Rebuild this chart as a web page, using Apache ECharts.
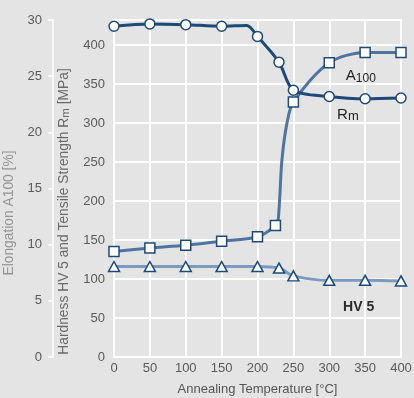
<!DOCTYPE html>
<html>
<head>
<meta charset="utf-8">
<title>Annealing temperature</title>
<script src="https://cdn.jsdelivr.net/npm/echarts@6.0.0/dist/echarts.min.js"></script>
<style>
  html, body { margin: 0; padding: 0; background: #e4e4e4; }
  #chart { width: 414px; height: 398px; }
</style>
</head>
<body>
<div id="chart"></div>
<script>
// values: [temperature in °C, value]
var rmPoints = [[0, 424], [50, 427], [100, 426], [150, 424], [200, 411], [230, 378], [250, 342], [300, 334], [350, 331], [400, 332]];
var rmBends = [[185, 425]];                                  // unmarked bend on the curve
var a100Points = [[0, 9.4], [50, 9.7], [100, 9.95], [150, 10.3], [200, 10.7], [225, 11.7], [250, 22.7], [300, 26.2], [350, 27.1], [400, 27.1]];
var a100Bends = [[229, 12.3], [234, 17.5], [241, 20.8]];
var hvPoints = [[0, 116], [50, 116], [100, 116], [150, 116], [200, 116], [230, 114], [250, 104], [300, 98.3], [350, 98.3], [400, 97.5]];
var hvBends = [];

var mpaMax = 432;     // top of the frame on the MPa scale
var elongMax = 30;

var font = "'Liberation Sans', Arial, sans-serif";
var navy = '#1c4a79';
var labelColor = '#5a5a5a';

function buildData(points, bends) {
    var data = points.map(function (p) { return { value: p }; });
    bends.forEach(function (b) {
        data.push({ value: b, symbol: 'none' });
    });
    data.sort(function (a, b) { return a.value[0] - b.value[0]; });
    return data;
}

function tag(coord, text, rich) {
    return {
        coord: coord,
        label: { formatter: text, rich: rich }
    };
}

var chart = echarts.init(document.getElementById('chart'));

var option = {
    backgroundColor: '#e4e4e4',
    animation: false,
    textStyle: { fontFamily: font },
    grid: {
        left: 114, right: 13, top: 20, bottom: 41,
        outerBoundsMode: 'none',
        containLabel: false,
        show: true, borderColor: '#fff', borderWidth: 2, backgroundColor: 'transparent'
    },
    xAxis: {
        type: 'value',
        min: 0, max: 400, interval: 50,
        name: 'Annealing Temperature [°C]',
        nameLocation: 'middle',
        nameGap: 26,
        nameTextStyle: { color: '#555', fontSize: 13, fontFamily: font },
        axisLine: { lineStyle: { color: '#fff', width: 2 } },
        axisTick: { show: false },
        axisLabel: { color: labelColor, fontSize: 13, margin: 5, fontFamily: font },
        splitLine: { show: true, lineStyle: { color: '#fff', width: 2 } }
    },
    yAxis: [
        {
            type: 'value',
            position: 'left',
            min: 0, max: mpaMax, interval: 50,
            name: '{n|Hardness HV 5 and Tensile Strength R}{s|m}{n| [MPa]}',
            nameLocation: 'middle',
            nameGap: 42,
            nameTextStyle: {
                padding: [0, 46, 0, 0],
                rich: {
                    n: { color: '#6a6a6a', fontSize: 13.8, lineHeight: 15, fontFamily: font },
                    s: { color: '#6a6a6a', fontSize: 11.5, lineHeight: 11, verticalAlign: 'bottom', fontFamily: font }
                }
            },
            axisLine: { show: true, lineStyle: { color: '#fff', width: 2 } },
            axisTick: { show: false },
            axisLabel: { color: labelColor, fontSize: 13, margin: 9, showMaxLabel: false, fontFamily: font },
            splitLine: { show: true, lineStyle: { color: '#fff', width: 2 } }
        },
        {
            type: 'value',
            position: 'left',
            offset: 61,
            min: 0, max: elongMax, interval: 5,
            name: 'Elongation A100 [%]',
            nameLocation: 'middle',
            nameGap: 36,
            nameTextStyle: { color: '#959595', fontSize: 13.8, padding: [0, 49, 0, 0], fontFamily: font },
            axisLine: { show: true, lineStyle: { color: '#fff', width: 1.5 } },
            axisTick: { show: true, length: 5, lineStyle: { color: '#fff', width: 1.5 } },
            axisLabel: { color: labelColor, fontSize: 13, margin: 11, fontFamily: font },
            splitLine: { show: false }
        }
    ],
    series: [
        {
            name: 'HV 5',
            type: 'line',
            yAxisIndex: 0,
            smooth: 0.3,
            data: buildData(hvPoints, hvBends),
            symbol: 'triangle',
            symbolSize: [11, 10],
            lineStyle: { color: '#7b9abd', width: 3 },
            itemStyle: { color: '#fff', borderColor: navy, borderWidth: 1.5 },
            markPoint: {
                symbol: 'circle', symbolSize: 1, itemStyle: { color: 'transparent' },
                data: [tag([341, 64], 'HV 5', null)],
                label: { show: true, position: 'inside', color: '#2a2a2a', fontSize: 14, fontWeight: 'bold', fontFamily: font }
            },
            z: 2
        },
        {
            name: 'A100',
            type: 'line',
            yAxisIndex: 1,
            smooth: 0.3,
            data: buildData(a100Points, a100Bends),
            symbol: 'rect',
            symbolSize: 10,
            lineStyle: { color: '#4e74a0', width: 3 },
            itemStyle: { color: '#fff', borderColor: navy, borderWidth: 1.5 },
            markPoint: {
                symbol: 'circle', symbolSize: 1, itemStyle: { color: 'transparent' },
                data: [tag([344, 25.0], '{b|A}{s|100}', {
                    b: { color: '#222', fontSize: 15, lineHeight: 18, fontFamily: font },
                    s: { color: '#222', fontSize: 12, lineHeight: 11, verticalAlign: 'bottom', fontFamily: font }
                })],
                label: { show: true, position: 'inside' }
            },
            z: 3
        },
        {
            name: 'Rm',
            type: 'line',
            yAxisIndex: 0,
            smooth: 0.3,
            data: buildData(rmPoints, rmBends),
            symbol: 'circle',
            symbolSize: 10,
            lineStyle: { color: navy, width: 3 },
            itemStyle: { color: '#fff', borderColor: navy, borderWidth: 1.5 },
            markPoint: {
                symbol: 'circle', symbolSize: 1, itemStyle: { color: 'transparent' },
                data: [tag([326, 311], '{b|R}{s|m}', {
                    b: { color: '#222', fontSize: 15, lineHeight: 18, fontFamily: font },
                    s: { color: '#222', fontSize: 13, lineHeight: 11, verticalAlign: 'bottom', fontFamily: font }
                })],
                label: { show: true, position: 'inside' }
            },
            z: 4
        }
    ]
};

chart.setOption(option);
</script>
</body>
</html>
